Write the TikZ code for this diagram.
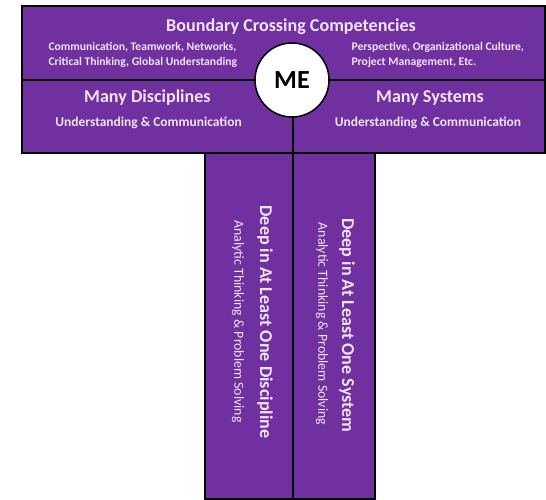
\documentclass[tikz,border=0pt]{standalone}
\usepackage{fontspec}
\setmainfont{Carlito}
\usepackage{tikz}
\usepackage{xcolor}

\definecolor{tpurple}{RGB}{112,48,160}
\definecolor{tlav}{RGB}{240,228,246}

\begin{document}
\begin{tikzpicture}[
	block/.style = {rectangle,
		draw = black,
		line width = 1.5pt,
		fill = tpurple,
		anchor = north west,
		inner sep = 0pt},
	head/.style = {text = tlav,
		font = \fontsize{18}{20}\selectfont\bfseries},
	sub/.style = {text = tlav,
		font = \fontsize{13.4}{15}\selectfont\bfseries},
	small/.style = {text = tlav,
		align = left,
		anchor = west,
		font = \fontsize{11.6}{15}\selectfont\bfseries},
	deep/.style = {text = tlav,
		rotate = -90,
		font = \fontsize{13.8}{15}\selectfont}
	]
	
	\useasboundingbox (0cm,0cm) rectangle (19.11cm,-17.5cm);
	
	% top band
	\node[block,
	minimum width = 18.305cm,
	minimum height = 2.59cm] (comp) at (0.735cm,-0.175cm) {};
	
	% lower band
	\node[block,
	minimum width = 9.485cm,
	minimum height = 2.555cm] (disc) at (0.735cm,-2.765cm) {};
	
	\node[block,
	minimum width = 8.82cm,
	minimum height = 2.555cm] (sys) at (10.22cm,-2.765cm) {};
	
	% stem
	\node[block,
	minimum width = 3.08cm,
	minimum height = 12.11cm] (deepd) at (7.14cm,-5.32cm) {};
	
	\node[block,
	minimum width = 2.87cm,
	minimum height = 12.11cm] (deeps) at (10.22cm,-5.32cm) {};
	
	\node[circle,
	draw = black,
	line width = 1.5pt,
	fill = white,
	inner sep = 0pt,
	minimum size = 2.59cm,
	font = \fontsize{26}{28}\selectfont\bfseries] (me) at (10.22cm,-2.8cm) {ME};
	
	% texts
	\node[head] (comptitle) at (10.185cm,-0.945cm) {Boundary Crossing Competencies};
	\node[small] (compleft) at (1.575cm,-1.925cm) {Communication, Teamwork, Networks,\\ Critical Thinking, Global Understanding};
	\node[small] (compright) at (12.18cm,-1.925cm) {Perspective, Organizational Culture,\\ Project Management, Etc.};
	
	\node[head] (disctitle) at (5.16cm,-3.43cm) {Many Disciplines};
	\node[sub] (discsub) at (5.2cm,-4.305cm) {Understanding \& Communication};
	\node[head] (systitle) at (15.05cm,-3.43cm) {Many Systems};
	\node[sub] (syssub) at (14.98cm,-4.305cm) {Understanding \& Communication};
	
	\node[head, rotate = -90] (deepdtitle) at (9.275cm,-11.27cm) {Deep in At Least One Discipline};
	\node[deep] (deepdsub) at (8.33cm,-11.25cm) {Analytic Thinking \& Problem Solving};
	\node[head, rotate = -90] (deepstitle) at (12.145cm,-11.39cm) {Deep in At Least One System};
	\node[deep] (deepssub) at (11.27cm,-11.34cm) {Analytic Thinking \& Problem Solving};
	
\end{tikzpicture}
\end{document}
